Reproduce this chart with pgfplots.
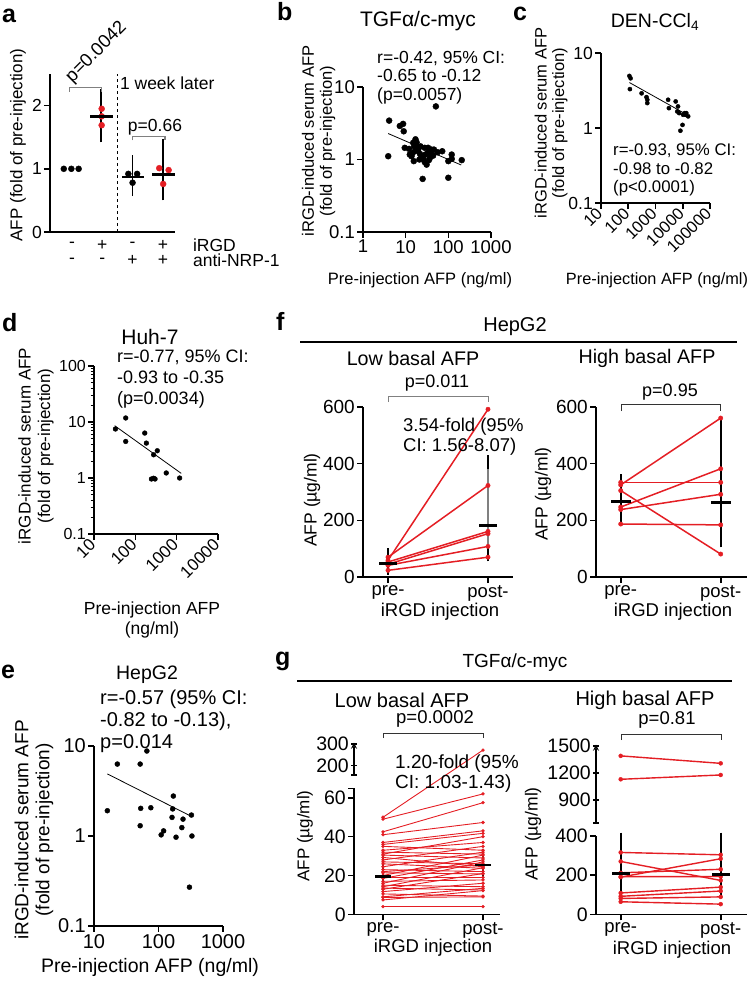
\documentclass[border=0pt]{standalone}
\usepackage{pgfplots}
\pgfplotsset{compat=1.18}
\usepackage{pgfplotstable}
\usepackage{fontspec}
\setmainfont{Liberation Sans}
\definecolor{gpred}{RGB}{228,30,36}
\newcommand{\fs}[2]{\fontsize{#1}{#2}\selectfont}
\newcommand{\letfont}{\fontsize{25}{25}\selectfont\bfseries}

\pgfplotsset{
  gp/.style={
    scale only axis, axis lines=left, axis line style={-, line width=1.6pt},
    tick align=outside, major tick length=6pt,
    major tick style={line width=1.6pt, black},
    tick label style={font=\fs{#1}{#1}, inner sep=2pt},
    enlargelimits=false, clip=false,
  },
  gplog/.style={gp=#1, xminorticks=false, yminorticks=false},
  meanbar/.style={only marks, mark=-, black, mark options={line width=2.6pt},
    error bars/y dir=both, error bars/y explicit, error bars/error mark=-,
    error bars/error mark options={black, line width=1.8pt, mark size=7pt},
    error bars/error bar style={line width=1.8pt}},
  dots/.style={only marks, mark=*, mark size=#1},
}

% paired values, HepG2 (ug/ml)
\pgfplotstableread{
pre post
23.5 70
41 108
45 153
53 161
59 592
70 323
}\flow
\pgfplotstableread{
pre post
334 334
325 561
305 81
247 382
238 292
187 184
}\fhigh
% TGFa/c-myc low basal (the 50 -> 272 pair crosses the axis break, drawn apart)
\pgfplotstableread{
pre post
4 4
7.4 12.2
8.7 9
9 13.4
10.5 9.4
11.7 16
12.9 21
13.5 12.5
14.2 24
15 14.2
16 27
17 17.7
18.5 28
19 19
20 30.5
21.4 20.8
22 25.4
23 22
24.5 32
26 23.7
27 26
28 35
29.3 24.5
30.5 29
31 40
32 31
33 37
35 33
36 41.7
37 43
41 47.3
42.5 57.5
49 62
}\glow
\pgfplotstableread{
pre post
316 304
270 173
190 284
212 230
192 193
109 139
92 119
81 89
64 52
}\ghighlo
\pgfplotstableread{
pre post
1390 1307
1130 1178
}\ghighup

\begin{document}
\begin{tikzpicture}
\path[use as bounding box] (0pt,0pt) rectangle (750pt,-986pt);

\foreach \l/\x/\y in {a/2/22, b/277/20, c/513/20, d/2/331, f/276/330, e/1/678, g/275/665}
  \node[anchor=base west, inner sep=0, font=\letfont] at (\x pt,-\y pt) {\l};

% ---------------- a ----------------
\begin{axis}[gp=17.5, at={(50pt,-232pt)}, anchor=south west, width=125pt, height=158pt,
  xmin=-0.725, xmax=3.4, ymin=0, ymax=2.5, xtick=\empty,
  ytick={0,1,2}, yticklabels={0,1,2}]
\addplot[dots=3pt, black] coordinates {(-0.27,1) (-0.02,1) (0.22,1)};
\addplot[dots=3pt, gpred] coordinates {(0.98,1.95) (0.98,1.83) (0.98,1.69)};
\addplot[dots=3pt, black] coordinates {(1.86,0.92) (2.15,0.92) (2.0,0.78)};
\addplot[dots=3pt, gpred] coordinates {(2.88,1.01) (3.19,0.98) (3.01,0.76)};
\addplot[meanbar, mark size=11.5pt] coordinates {(0.97,1.83) += (0,0.32) -= (0,0.30)};
\addplot[meanbar, mark size=11pt] coordinates {(2.0,0.87) += (0,0.23) -= (0,0.19)};
\addplot[meanbar, mark size=11.5pt] coordinates {(3.01,0.91) += (0,0.45) -= (0,0.30)};
\draw[dashed, line width=0.6pt] (axis cs:1.5,0) -- (axis cs:1.5,2.5);
\draw[gray, line width=1.1pt] (axis cs:-0.07,2.22) -- (axis cs:-0.07,2.29) -- (axis cs:0.98,2.29) -- (axis cs:0.98,2.22);
\draw[gray, line width=1.1pt] (axis cs:2.0,1.45) -- (axis cs:2.0,1.51) -- (axis cs:3.07,1.51) -- (axis cs:3.07,1.45);
\node[font=\fs{18.5}{20}, rotate=45, anchor=south west, inner sep=0] at (axis cs:0.1,2.31) {p=0.0042};
\node[font=\fs{17.5}{19}, inner sep=0] at (axis cs:2.74,1.66) {p=0.66};
\node[font=\fs{17.5}{19}, anchor=west, inner sep=0] at (axis cs:1.58,2.36) {1 week later};
\node[font=\fs{17.5}{19}, inner sep=0] at (axis cs:0,-0.21) {-};
\node[font=\fs{17.5}{19}, inner sep=0] at (axis cs:1,-0.21) {+};
\node[font=\fs{17.5}{19}, inner sep=0] at (axis cs:2,-0.21) {-};
\node[font=\fs{17.5}{19}, inner sep=0] at (axis cs:3,-0.21) {+};
\node[font=\fs{17.5}{19}, inner sep=0] at (axis cs:0,-0.45) {-};
\node[font=\fs{17.5}{19}, inner sep=0] at (axis cs:1,-0.45) {-};
\node[font=\fs{17.5}{19}, inner sep=0] at (axis cs:2,-0.45) {+};
\node[font=\fs{17.5}{19}, inner sep=0] at (axis cs:3,-0.45) {+};
\node[font=\fs{17.5}{19}, anchor=west, inner sep=0] at (axis cs:3.99,-0.21) {iRGD};
\node[font=\fs{17.5}{19}, anchor=west, inner sep=0] at (axis cs:3.99,-0.45) {anti-NRP-1};
\end{axis}
\node[font=\fs{17}{19}, rotate=90] at (18pt,-145pt) {AFP (fold of pre-injection)};

% ---------------- b ----------------
\node[font=\fs{21}{23}] at (418pt,-21pt) {TGFα/c-myc};
\begin{loglogaxis}[gplog=18.5, at={(363pt,-232pt)}, anchor=south west, width=128pt, height=145pt,
  xmin=1, xmax=1000, ymin=0.1, ymax=10,
  xtick={1,10,100,1000}, xticklabels={1,10,100,1000},
  ytick={0.1,1,10}, yticklabels={0.1,1,10}]
\addplot[dots=3pt, black] coordinates {
 (4.1,3.44) (3.9,1.11) (51,5.4) (7.3,2.9) (8.7,3.1) (9.0,2.45) (9.5,1.45) (12.5,1.17)
 (15,1.7) (15.8,1.52) (17,1.9) (18,1.73) (16.5,1.3) (19.7,1.37) (21.6,1.2) (15.5,0.95)
 (23.5,1.11) (25.8,1.02) (28,0.92) (31,0.85) (35,0.98) (37,1.05) (33.6,1.45) (32.6,1.23)
 (39,1.2) (44,1.13) (46,1.37) (56,1.26) (72,1.3) (25,0.54) (100,0.56) (100,0.95)
 (120,1.17) (206,0.98) (120,1.02) (12,1.4) (22.3,1.52) (28,1.45) (40,1.37) (21,1.0)
 (13.7,1.11) (29,1.17) (18.7,1.52) (14.5,1.23)};
\addplot[black, line width=0.8pt] coordinates {(3.9,2.28) (200,0.84)};
\end{loglogaxis}
\node[font=\fs{16.5}{18}, rotate=90, align=center] at (318.5pt,-141pt)
  {iRGD-induced serum AFP\\(fold of pre-injection)};
\node[font=\fs{16.5}{18}] at (420pt,-280pt) {Pre-injection AFP (ng/ml)};
\node[font=\fs{17.5}{18.7}, anchor=west, align=left, inner sep=0] at (377pt,-77.5pt)
  {r=-0.42, 95\% CI:\\-0.65 to -0.12\\(p=0.0057)};

% ---------------- c ----------------
\node[font=\fs{19.5}{21}] at (655pt,-22pt) {DEN-CCl\textsubscript{4}};
\begin{loglogaxis}[gplog=17.5, at={(601pt,-203pt)}, anchor=south west, width=109pt, height=150pt,
  xmin=10, xmax=100000, ymin=0.1, ymax=10,
  xtick={10,100,1000,10000,100000}, xticklabels={10,100,1000,10000,100000},
  xticklabel style={rotate=45, anchor=east, font=\fs{16.5}{17}},
  ytick={0.1,1,10}, yticklabels={0.1,1,10}]
\addplot[dots=2.1pt, black] coordinates {
 (110,4.95) (122,4.6) (115,3.3) (309,2.9) (467,2.58) (500,2.38) (500,2.15) (2900,2.38)
 (3100,1.84) (5500,2.26) (6700,1.94) (6300,1.66) (7400,1.58) (10300,1.5) (11800,1.58)
 (12700,1.5) (15800,1.43) (9800,1.1) (8200,0.92) (13500,1.58)};
\addplot[black, line width=0.8pt] coordinates {(110,4.04) (18300,1.43)};
\end{loglogaxis}
\node[font=\fs{16.5}{17.5}, rotate=90, align=center] at (551pt,-123pt)
  {iRGD-induced serum AFP\\(fold of pre-injection)};
\node[font=\fs{16.3}{18}] at (657pt,-280pt) {Pre-injection AFP (ng/ml)};
\node[font=\fs{16.8}{18.3}, anchor=west, align=left, inner sep=0] at (613pt,-170pt)
  {r=-0.93, 95\% CI:\\-0.98 to -0.82\\(p<0.0001)};

% ---------------- d ----------------
\node[font=\fs{21}{23}] at (150pt,-337pt) {Huh-7};
\begin{loglogaxis}[gp=16, at={(94pt,-534pt)}, anchor=south west, width=124pt, height=168pt,
  xmin=10, xmax=10000, ymin=0.1, ymax=100, xminorticks=false,
  minor tick length=3.5pt, minor tick style={line width=0.9pt, black},
  xtick={10,100,1000,10000}, xticklabels={10,100,1000,10000},
  xticklabel style={rotate=45, anchor=east, font=\fs{17}{17}},
  ytick={0.1,1,10,100}, yticklabels={0.1,1,10,100},
  minor ytick={0.2,0.3,0.4,0.5,0.6,0.7,0.8,0.9,2,3,4,5,6,7,8,9,20,30,40,50,60,70,80,90}]
\addplot[dots=2.4pt, black] coordinates {
 (33,7.5) (58.5,11.8) (58.5,4.5) (169,6.35) (185,4.2) (340,3.07) (277,2.6) (245,0.96)
 (277,0.99) (300,0.96) (560,1.23) (1180,1.0)};
\addplot[black, line width=0.8pt] coordinates {(31.6,8.6) (1290,1.21)};
\end{loglogaxis}
\node[font=\fs{17}{19.5}, rotate=90, align=center] at (36pt,-446pt)
  {iRGD-induced serum AFP\\(fold of pre-injection)};
\node[font=\fs{17.5}{20}, align=center] at (152pt,-620pt) {Pre-injection AFP\\(ng/ml)};
\node[font=\fs{18}{21}, anchor=west, align=left, inner sep=0] at (117pt,-379pt)
  {r=-0.77, 95\% CI:\\-0.93 to -0.35\\(p=0.0034)};

% ---------------- e ----------------
\node[font=\fs{19.5}{21}] at (147pt,-675pt) {HepG2};
\begin{loglogaxis}[gplog=20, at={(94pt,-926pt)}, anchor=south west, width=129pt, height=180pt,
  xmin=10, xmax=1000, ymin=0.1, ymax=10,
  xtick={10,100,1000}, xticklabels={10,100,1000},
  ytick={0.1,1,10}, yticklabels={0.1,1,10}]
\addplot[dots=2.5pt, black] coordinates {
 (16.1,1.91) (23,6.3) (52,6.3) (66,8.8) (53,2.03) (52,1.3) (76,2.06) (170,2.78) (166,2.0)
 (162,1.61) (240,1.54) (324,1.71) (230,1.24) (120,1.14) (110,1.03) (187,0.97) (330,1.0)
 (302,0.27)};
\addplot[black, line width=0.8pt] coordinates {(16.1,4.9) (330,1.64)};
\end{loglogaxis}
\node[font=\fs{19}{21}, rotate=90, align=center] at (34pt,-830pt)
  {iRGD-induced serum AFP\\(fold of pre-injection)};
\node[font=\fs{19.5}{21}] at (150pt,-967pt) {Pre-injection AFP (ng/ml)};
\node[font=\fs{20}{21.7}, anchor=west, align=left, inner sep=0] at (100pt,-721.5pt)
  {r=-0.57 (95\% CI:\\-0.82 to -0.13),\\p=0.014};

% ---------------- f ----------------
\node[font=\fs{20}{21}] at (515pt,-327pt) {HepG2};
\draw[line width=1.6pt] (300pt,-342pt) -- (737pt,-342pt);
\node[font=\fs{19.7}{21}] at (413pt,-358pt) {Low basal AFP};
\node[font=\fs{19.7}{21}] at (647pt,-358pt) {High basal AFP};

\begin{axis}[gp=19, at={(363pt,-577pt)}, anchor=south west, width=150pt, height=170pt,
  xmin=-0.25, xmax=1.25, ymin=0, ymax=600, xticklabel style={font=\fs{18.5}{19}},
  xtick={0,1}, xticklabels={pre-,post-}, ytick={0,200,400,600}, yticklabels={0,200,400,600}]
\addplot[gpred, line width=1.5pt, quiver={u=1, v={\thisrow{post}-\thisrow{pre}}}]
  table[x expr=0, y=pre] {\flow};
\addplot[dots=2.2pt, gpred] table[x expr=0, y=pre] {\flow};
\addplot[dots=2.2pt, gpred] table[x expr=1, y=post] {\flow};
\addplot[meanbar, mark size=9pt] coordinates {(0,47) += (0,29) -= (0,15)};
\addplot[meanbar, mark size=9pt, error bars/error bar style={gray, line width=1.8pt}]
  coordinates {(1,181) += (0,224) -= (0,101)};
\end{axis}
\node[font=\fs{17.5}{19}, rotate=90] at (312pt,-500pt) {AFP (µg/ml)};
\node[font=\fs{18.5}{19}] at (440pt,-612pt) {iRGD injection};
\draw[gray, line width=1pt] (388pt,-402pt) -- (388pt,-396pt) -- (488pt,-396pt) -- (488pt,-402pt);
\node[font=\fs{18}{19}] at (437pt,-383pt) {p=0.011};
\node[font=\fs{18.5}{20}, anchor=west, align=left, inner sep=0] at (403pt,-437pt)
  {3.54-fold (95\%\\CI: 1.56-8.07)};

\begin{axis}[gp=19, at={(596pt,-577pt)}, anchor=south west, width=151pt, height=170pt,
  xmin=-0.247, xmax=1.263, ymin=0, ymax=600, xticklabel style={font=\fs{18.5}{19}},
  xtick={0,1}, xticklabels={pre-,post-}, ytick={0,200,400,600}, yticklabels={0,200,400,600}]
\addplot[gpred, line width=1.5pt, quiver={u=1, v={\thisrow{post}-\thisrow{pre}}}]
  table[x expr=0, y=pre] {\fhigh};
\addplot[dots=2.2pt, gpred] table[x expr=0, y=pre] {\fhigh};
\addplot[dots=2.2pt, gpred] table[x expr=1, y=post] {\fhigh};
\addplot[meanbar, mark size=10pt] coordinates {(0,267) += (0,71) -= (0,48)};
\addplot[meanbar, mark size=10pt] coordinates {(1,263) += (0,266) -= (0,134)};
\end{axis}
\node[font=\fs{17.5}{19}, rotate=90] at (543pt,-494pt) {AFP (µg/ml)};
\node[font=\fs{18.5}{19}] at (673pt,-612pt) {iRGD injection};
\draw[black!80, line width=0.9pt] (621pt,-411pt) -- (621pt,-404pt) -- (720pt,-404pt) -- (720pt,-411pt);
\node[font=\fs{18}{19}] at (670pt,-392pt) {p=0.95};

% ---------------- g ----------------
\node[font=\fs{19}{20}] at (515pt,-663pt) {TGFα/c-myc};
\draw[line width=1.6pt] (297pt,-681pt) -- (732pt,-681pt);
\node[font=\fs{20}{21}] at (402pt,-700pt) {Low basal AFP};
\node[font=\fs{20}{21}] at (645pt,-700pt) {High basal AFP};

% low basal: upper segment of the broken axis
\begin{axis}[gp=19.5, at={(354pt,-775pt)}, anchor=south west, width=146pt, height=32.3pt,
  xmin=-0.29, xmax=1.17, ymin=157, ymax=306, axis x line=none, axis y line=left,
  ytick={200,300}, yticklabels={200,300}, extra y ticks={157}, extra y tick labels={}]
\addplot[dots=1.5pt, gpred] coordinates {(1,272)};
\coordinate (gtop) at (axis cs:1,272);
\end{axis}
\begin{axis}[gp=19.5, at={(354pt,-914.3pt)}, anchor=south west, width=146pt, height=126pt,
  xmin=-0.29, xmax=1.17, ymin=0, ymax=64.9, xticklabel style={font=\fs{18.5}{19}},
  xtick={0,1}, xticklabels={pre-,post-}, ytick={0,20,40,60}, yticklabels={0,20,40,60},
  extra y ticks={64.9}, extra y tick labels={}]
\addplot[gpred, line width=0.9pt, quiver={u=1, v={\thisrow{post}-\thisrow{pre}}}]
  table[x expr=0, y=pre] {\glow};
\coordinate (gbot) at (axis cs:0,50);
\addplot[dots=1.5pt, gpred] table[x expr=0, y=pre] {\glow};
\addplot[dots=1.5pt, gpred] table[x expr=1, y=post] {\glow};
\addplot[dots=1.5pt, gpred] coordinates {(0,50)};
\addplot[meanbar, mark size=8pt, error bars/error mark options={black, line width=1.8pt, mark size=5.5pt}]
  coordinates {(0,19.4) += (0,11.1) -= (0,3.9)};
\addplot[meanbar, mark size=8pt, error bars/error mark options={black, line width=1.8pt, mark size=5.5pt}]
  coordinates {(1,25.4) += (0,5.6) -= (0,3.9)};
\end{axis}
\draw[gpred, line width=0.9pt] (gbot) -- (gtop);
\node[font=\fs{17}{18}, rotate=90] at (305pt,-836pt) {AFP (µg/ml)};
\node[font=\fs{18.5}{19}] at (433pt,-948pt) {iRGD injection};
\draw[black!80, line width=0.9pt] (383pt,-738pt) -- (383pt,-733pt) -- (483pt,-733pt) -- (483pt,-738pt);
\node[font=\fs{18.5}{19}] at (435pt,-719pt) {p=0.0002};
\node[font=\fs{19}{20}, anchor=west, align=left, inner sep=0] at (395pt,-774pt)
  {1.20-fold (95\%\\CI: 1.03-1.43)};

% high basal: upper segment
\begin{axis}[gp=19.5, at={(596pt,-822.7pt)}, anchor=south west, width=151pt, height=78pt,
  xmin=-0.247, xmax=1.263, ymin=648, ymax=1514, axis x line=none, axis y line=left,
  ytick={900,1200,1500}, yticklabels={900,1200,1500}, extra y ticks={648}, extra y tick labels={}]
\addplot[gpred, line width=1.4pt, quiver={u=1, v={\thisrow{post}-\thisrow{pre}}}]
  table[x expr=0, y=pre] {\ghighup};
\addplot[dots=2pt, gpred] table[x expr=0, y=pre] {\ghighup};
\addplot[dots=2pt, gpred] table[x expr=1, y=post] {\ghighup};
\end{axis}
\begin{axis}[gp=19.5, at={(596pt,-914.3pt)}, anchor=south west, width=151pt, height=78.3pt,
  xmin=-0.247, xmax=1.263, ymin=0, ymax=400, xticklabel style={font=\fs{18.5}{19}},
  xtick={0,1}, xticklabels={pre-,post-}, ytick={0,200,400}, yticklabels={0,200,400}]
\addplot[gpred, line width=1.4pt, quiver={u=1, v={\thisrow{post}-\thisrow{pre}}}]
  table[x expr=0, y=pre] {\ghighlo};
\addplot[dots=2pt, gpred] table[x expr=0, y=pre] {\ghighlo};
\addplot[dots=2pt, gpred] table[x expr=1, y=post] {\ghighlo};
\addplot[meanbar, mark size=9pt] coordinates {(0,207) += (0,174) -= (0,89)};
\addplot[meanbar, mark size=9pt] coordinates {(1,203) += (0,178) -= (0,85)};
\end{axis}
\node[font=\fs{17.5}{19}, rotate=90] at (533pt,-834pt) {AFP (µg/ml)};
\node[font=\fs{18.5}{19}] at (672pt,-950pt) {iRGD injection};
\draw[black!80, line width=0.9pt] (621pt,-740pt) -- (621pt,-734pt) -- (721pt,-734pt) -- (721pt,-740pt);
\node[font=\fs{18.5}{19}] at (667pt,-720pt) {p=0.81};

\end{tikzpicture}
\end{document}
